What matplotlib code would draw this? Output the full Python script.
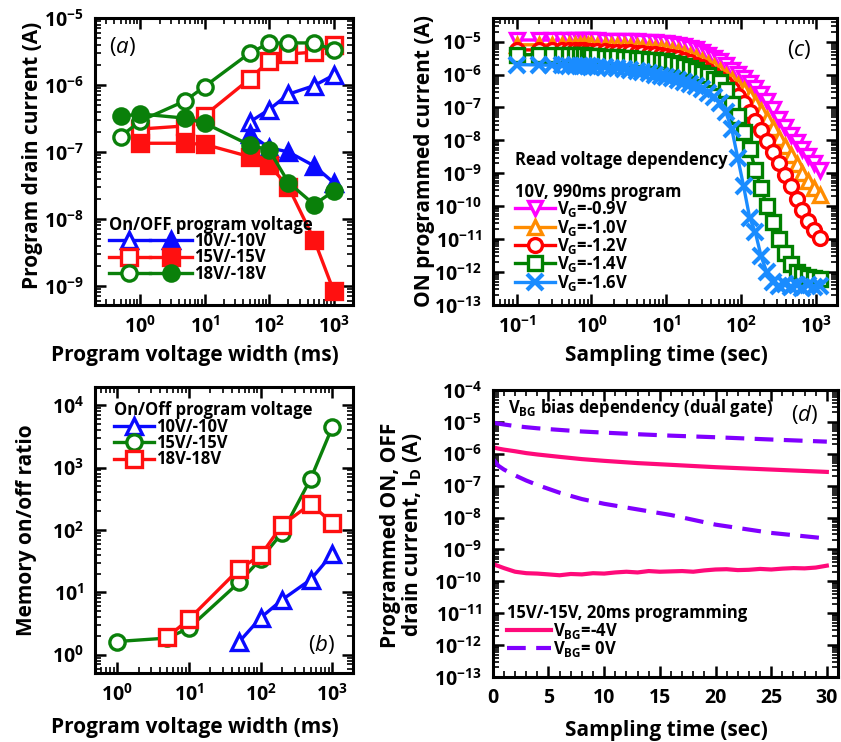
import numpy as np
import matplotlib
matplotlib.use('Agg')
import matplotlib.pyplot as plt
from matplotlib.ticker import LogLocator, FuncFormatter, MultipleLocator, NullFormatter
from matplotlib.legend_handler import HandlerTuple

plt.rcParams['font.family'] = ['Open Sans', 'DejaVu Sans']
plt.rcParams['font.weight'] = 'bold'
plt.rcParams['axes.labelweight'] = 'bold'
plt.rcParams['mathtext.fontset'] = 'custom'
plt.rcParams['mathtext.rm'] = 'Open Sans:weight=regular'
plt.rcParams['mathtext.bf'] = 'Open Sans:bold'
plt.rcParams['mathtext.it'] = 'Open Sans:style=italic:weight=regular'
plt.rcParams['mathtext.default'] = 'bf'
plt.rcParams['axes.linewidth'] = 2.2

# ---- panel (a): program drain current vs program width ----
width_a18 = [0.5, 1, 5, 10, 50, 100, 200, 500, 1000]
on_18 = [1.7e-7, 2.9e-7, 5.8e-7, 9.5e-7, 3.0e-6, 4.2e-6, 4.25e-6, 4.25e-6, 3.35e-6]
off_18 = [3.4e-7, 3.7e-7, 3.2e-7, 2.7e-7, 1.27e-7, 1.07e-7, 3.5e-8, 1.64e-8, 2.6e-8]
width_a15 = [1, 5, 10, 50, 100, 200, 500, 1000]
on_15 = [2.2e-7, 2.45e-7, 3.5e-7, 1.23e-6, 2.3e-6, 2.9e-6, 3.1e-6, 4.0e-6]
off_15 = [1.35e-7, 1.35e-7, 1.3e-7, 8.5e-8, 6.4e-8, 3.0e-8, 4.9e-9, 8.5e-10]
width_a10 = [50, 100, 200, 500, 1000]
on_10 = [2.8e-7, 4.3e-7, 7.3e-7, 9.8e-7, 1.4e-6]
off_10 = [1.85e-7, 1.16e-7, 1.0e-7, 6.2e-8, 3.5e-8]

# ---- panel (b): memory on/off ratio ----
width_b10 = [50, 100, 200, 500, 1000]
ratio_10 = [1.6, 3.9, 7.6, 16, 41]
width_b15 = [1, 5, 10, 50, 100, 200, 500, 1000]
ratio_15 = [1.63, 1.85, 2.67, 14.4, 34, 90, 655, 4400]
width_b18 = [5, 10, 50, 100, 200, 500, 1000]
ratio_18 = [1.92, 3.7, 23.5, 39, 120, 260, 130]

# ---- panel (c): read voltage dependency ----
t_c = [0.1, 0.2, 0.3, 0.4, 0.5, 0.6, 0.7, 0.8, 0.9,
       1.0, 1.2, 1.5, 1.8, 2.2, 2.7, 3.3, 4, 4.8, 5.8, 7, 8.5,
       10, 12, 14.5, 17.5, 21, 25, 30, 36, 43, 52, 62, 75, 90, 108, 130,
       155, 185, 220, 265, 320, 380, 460, 550, 660, 790, 950, 1150]
i_09 = [1.12e-5, 1.12e-5, 1.11e-5, 1.11e-5, 1.11e-5, 1.10e-5, 1.10e-5, 1.10e-5, 1.10e-5,
        1.09e-5, 1.09e-5, 1.08e-5, 1.07e-5, 1.06e-5, 1.05e-5, 1.04e-5, 1.02e-5, 1.0e-5, 9.8e-6, 9.5e-6, 9.2e-6,
        8.9e-6, 8.5e-6, 8.0e-6, 7.3e-6, 6.6e-6, 5.8e-6, 4.9e-6, 4.0e-6, 3.2e-6, 2.5e-6, 1.9e-6, 1.4e-6,
        1.05e-6, 7.8e-7, 5.6e-7, 3.9e-7, 2.6e-7, 1.6e-7, 9.0e-8, 4.6e-8, 2.6e-8, 1.5e-8, 8.8e-9,
        5.5e-9, 3.4e-9, 2.1e-9, 1.3e-9]
i_10 = [8.0e-6, 8.0e-6, 7.9e-6, 7.9e-6, 7.9e-6, 7.8e-6, 7.8e-6, 7.8e-6, 7.7e-6,
        7.7e-6, 7.6e-6, 7.5e-6, 7.4e-6, 7.3e-6, 7.2e-6, 7.0e-6, 6.8e-6, 6.6e-6, 6.3e-6, 6.0e-6, 5.8e-6,
        5.5e-6, 5.1e-6, 4.7e-6, 4.2e-6, 3.7e-6, 3.1e-6, 2.6e-6, 2.1e-6, 1.65e-6, 1.25e-6, 9.2e-7, 6.6e-7,
        4.8e-7, 3.4e-7, 2.2e-7, 1.35e-7, 8.0e-8, 4.4e-8, 2.3e-8, 1.2e-8, 6.6e-9, 3.5e-9, 1.9e-9,
        1.05e-9, 5.8e-10, 3.5e-10, 2.2e-10]
i_12 = [5.6e-6, 5.6e-6, 5.5e-6, 5.5e-6, 5.5e-6, 5.4e-6, 5.4e-6, 5.4e-6, 5.3e-6,
        5.3e-6, 5.2e-6, 5.1e-6, 5.0e-6, 4.9e-6, 4.8e-6, 4.7e-6, 4.6e-6, 4.5e-6, 4.3e-6, 4.1e-6, 3.9e-6,
        3.7e-6, 3.4e-6, 3.1e-6, 2.8e-6, 2.4e-6, 2.0e-6, 1.65e-6, 1.3e-6, 9.8e-7, 7.2e-7, 5.2e-7, 3.6e-7,
        2.3e-7, 1.35e-7, 7.5e-8, 4.0e-8, 2.0e-8, 9.5e-9, 4.5e-9, 2.0e-9, 9.0e-10, 4.0e-10, 1.7e-10,
        7.5e-11, 3.6e-11, 1.9e-11, 1.1e-11]
i_14 = [4.0e-6, 4.0e-6, 3.9e-6, 3.9e-6, 3.9e-6, 3.8e-6, 3.8e-6, 3.8e-6, 3.7e-6,
        3.7e-6, 3.6e-6, 3.5e-6, 3.4e-6, 3.3e-6, 3.2e-6, 3.1e-6, 3.0e-6, 2.9e-6, 2.8e-6, 2.7e-6, 2.6e-6,
        2.5e-6, 2.3e-6, 2.1e-6, 1.85e-6, 1.6e-6, 1.4e-6, 1.15e-6, 9.5e-7, 7.5e-7, 5.8e-7, 3.4e-7, 1.3e-7,
        5.5e-8, 1.8e-8, 5.5e-9, 1.3e-9, 3.6e-10, 1.0e-10, 3.2e-11, 1.0e-11, 3.8e-12, 1.7e-12, 1.0e-12,
        8.0e-13, 7.0e-13, 6.5e-13, 6.0e-13]
i_16 = [2.0e-6, 1.95e-6, 1.9e-6, 1.9e-6, 1.85e-6, 1.85e-6, 1.8e-6, 1.8e-6, 1.8e-6,
        1.75e-6, 1.7e-6, 1.65e-6, 1.6e-6, 1.55e-6, 1.5e-6, 1.4e-6, 1.3e-6, 1.2e-6, 1.1e-6, 1.0e-6, 9.3e-7,
        8.7e-7, 7.8e-7, 6.9e-7, 6.0e-7, 5.2e-7, 4.4e-7, 3.6e-7, 2.8e-7, 2.1e-7, 1.4e-7, 7.5e-8, 2.2e-8,
        3.0e-9, 4.0e-10, 4.5e-11, 1.6e-11, 3.0e-12, 1.0e-12, 5.0e-13, 3.8e-13, 4.2e-13, 3.5e-13, 4.0e-13,
        3.3e-13, 4.1e-13, 3.4e-13, 3.8e-13]

# ---- panel (d): back gate bias dependency ----
t_d = [0, 0.5, 1, 2, 3, 4, 6, 8, 10, 13, 16, 20, 25, 30]
on_m4 = [1.6e-6, 1.45e-6, 1.35e-6, 1.2e-6, 1.05e-6, 9.5e-7, 8.0e-7, 6.8e-7, 6.0e-7, 5.1e-7,
         4.5e-7, 3.8e-7, 3.2e-7, 2.7e-7]
on_0 = [9.5e-6, 8.8e-6, 8.3e-6, 7.4e-6, 6.8e-6, 6.3e-6, 5.6e-6, 5.0e-6, 4.6e-6, 4.1e-6,
        3.7e-6, 3.3e-6, 2.8e-6, 2.4e-6]
off_0 = [7.0e-7, 4.2e-7, 3.2e-7, 2.1e-7, 1.45e-7, 1.05e-7, 6.0e-8, 3.8e-8, 2.7e-8, 1.8e-8,
         1.2e-8, 6.0e-9, 3.3e-9, 2.2e-9]
t_d_off = list(range(31))
off_m4 = [3.5e-10, 2.6e-10, 2.0e-10, 1.8e-10, 1.75e-10, 1.65e-10, 1.55e-10, 1.7e-10, 1.65e-10,
          1.8e-10, 1.75e-10, 1.9e-10, 2.0e-10, 1.9e-10, 2.1e-10, 2.0e-10, 2.05e-10, 2.1e-10,
          2.0e-10, 2.2e-10, 2.35e-10, 2.4e-10, 2.25e-10, 2.3e-10, 2.45e-10, 2.35e-10, 2.5e-10,
          2.6e-10, 2.55e-10, 2.7e-10, 3.1e-10]

BLUE, RED, GREEN = '#0a0aff', '#ff1010', '#0a800a'
MAG, ORG, RED_C, GRN_C, SKY = '#ff00ff', '#ff8c00', '#ff0000', '#008000', '#1a8cff'
PINK, VIOLET = '#ff0a7a', '#8000ff'


def dec_fmt(v, pos):
    return r'$10^{%d}$' % int(round(np.log10(v)))


def panel_tag(ax, letter, x, y):
    # upright parentheses, italic letter, regular weight
    ax.text(x, y, r'$\mathrm{(}\mathit{%s}\mathrm{)}$' % letter, transform=ax.transAxes,
            fontsize=16, va='center', ha='center')


def style_axis(ax, logx=True, logy=True):
    if logx:
        ax.set_xscale('log')
        ax.xaxis.set_major_locator(LogLocator(base=10, numticks=30))
        ax.xaxis.set_minor_locator(LogLocator(base=10, subs=np.arange(2, 10), numticks=30))
        ax.xaxis.set_major_formatter(FuncFormatter(dec_fmt))
        ax.xaxis.set_minor_formatter(NullFormatter())
    if logy:
        ax.set_yscale('log')
        ax.yaxis.set_major_locator(LogLocator(base=10, numticks=30))
        ax.yaxis.set_minor_locator(LogLocator(base=10, subs=np.arange(2, 10), numticks=30))
        ax.yaxis.set_major_formatter(FuncFormatter(dec_fmt))
        ax.yaxis.set_minor_formatter(NullFormatter())
    ax.tick_params(which='both', direction='in', top=True, right=True)
    ax.tick_params(which='major', length=8, width=1.8, labelsize=14, pad=8)
    ax.tick_params(which='minor', length=4, width=1.2)


leg_kw = dict(alignment='left', title_fontsize=12, frameon=False, fontsize=12,
              handletextpad=0.15, labelspacing=-0.1, borderpad=0.2, borderaxespad=0.2,
              numpoints=1)
LABEL_FS = 15

fig = plt.figure(figsize=(8.41, 7.42), dpi=100)
ax_a = fig.add_axes([0.113, 0.589, 0.3067, 0.3867])
ax_c = fig.add_axes([0.586, 0.589, 0.409, 0.3867])
ax_b = fig.add_axes([0.113, 0.093, 0.3067, 0.3854])
ax_d = fig.add_axes([0.586, 0.0876, 0.4104, 0.3868])

# ---------------- (a) ----------------
ax = ax_a
mk = dict(markersize=11, markeredgewidth=2.4, linewidth=2.4)
l10o, = ax.plot(width_a10, on_10, '-^', color=BLUE, markerfacecolor='white', **mk)
l10f, = ax.plot(width_a10, off_10, '-^', color=BLUE, **mk)
l15o, = ax.plot(width_a15, on_15, '-s', color=RED, markerfacecolor='white', **mk)
l15f, = ax.plot(width_a15, off_15, '-s', color=RED, **mk)
l18o, = ax.plot(width_a18, on_18, '-o', color=GREEN, markerfacecolor='white', **mk)
l18f, = ax.plot(width_a18, off_18, '-o', color=GREEN, **mk)
style_axis(ax)
ax.set_xlim(0.2, 2000)
ax.set_ylim(5.2e-10, 1e-5)
ax.set_xlabel('Program voltage width (ms)', fontsize=LABEL_FS)
ax.set_ylabel('Program drain current (A)', fontsize=LABEL_FS)
ax.xaxis.set_label_coords(0.388, -0.14)
ax.yaxis.set_label_coords(-0.2, 0.52)
panel_tag(ax, 'a', 0.105, 0.9)
ax.legend([(l10o, l10f), (l15o, l15f), (l18o, l18f)],
          ['10V/-10V', '15V/-15V', '18V/-18V'],
          handler_map={tuple: HandlerTuple(ndivide=None, pad=0)},
          title='On/OFF program voltage', loc='lower left', bbox_to_anchor=(0.027, 0.054),
          handlelength=5.0, **leg_kw)

# ---------------- (c) ----------------
ax = ax_c
mc = dict(markersize=10, markeredgewidth=2.4, linewidth=2.4, markerfacecolor='white')
ax.plot(t_c, i_09, '-v', color=MAG, label=r'V$_G$=-0.9V', **mc)
ax.plot(t_c, i_10, '-^', color=ORG, label=r'V$_G$=-1.0V', **mc)
ax.plot(t_c, i_12, '-o', color=RED_C, label=r'V$_G$=-1.2V', **mc)
ax.plot(t_c, i_14, '-s', color=GRN_C, label=r'V$_G$=-1.4V', **mc)
ax.plot(t_c, i_16, '-x', color=SKY, markersize=11, markeredgewidth=3, linewidth=2.4,
        label=r'V$_G$=-1.6V')
style_axis(ax)
ax.set_xlim(0.048, 1900)
ax.set_ylim(1e-13, 5.2e-5)
ax.set_xlabel('Sampling time (sec)', fontsize=LABEL_FS)
ax.set_ylabel('ON programmed current (A)', fontsize=LABEL_FS)
ax.xaxis.set_label_coords(0.506, -0.14)
ax.yaxis.set_label_coords(-0.168, 0.5)
panel_tag(ax, 'c', 0.89, 0.889)
ax.text(0.064, 0.505, 'Read voltage dependency', transform=ax.transAxes, fontsize=12,
        va='center')
ax.legend(title='10V, 990ms program', loc='lower left', bbox_to_anchor=(0.044, 0.02),
          handlelength=2.4, **leg_kw)

# ---------------- (b) ----------------
ax = ax_b
mb = dict(markersize=11, markeredgewidth=2.4, linewidth=2.4, markerfacecolor='white')
ax.plot(width_b10, ratio_10, '-^', color=BLUE, label='10V/-10V', **mb)
ax.plot(width_b15, ratio_15, '-o', color=GREEN, label='15V/-15V', **mb)
ax.plot(width_b18, ratio_18, '-s', color=RED, label='18V-18V', **mb)
style_axis(ax)
ax.set_xlim(0.49, 1950)
ax.set_ylim(0.51, 19500)
ax.set_xlabel('Program voltage width (ms)', fontsize=LABEL_FS)
ax.set_ylabel('Memory on/off ratio', fontsize=LABEL_FS)
ax.xaxis.set_label_coords(0.388, -0.155)
ax.yaxis.set_label_coords(-0.225, 0.5)
panel_tag(ax, 'b', 0.88, 0.098)
ax.legend(title='On/Off program voltage', loc='upper left', bbox_to_anchor=(0.047, 0.973),
          handlelength=2.4, **leg_kw)

# ---------------- (d) ----------------
ax = ax_d
ax.plot(t_d, on_m4, '-', color=PINK, linewidth=3, label=r'V$_{BG}$=-4V')
ax.plot(t_d_off, off_m4, '-', color=PINK, linewidth=3)
ax.plot(t_d, on_0, '--', color=VIOLET, linewidth=3, dashes=(4.5, 2.5), label=r'V$_{BG}$= 0V')
ax.plot(t_d, off_0, '--', color=VIOLET, linewidth=3, dashes=(4.5, 2.5))
style_axis(ax, logx=False)
ax.xaxis.set_major_locator(MultipleLocator(5))
ax.xaxis.set_minor_locator(MultipleLocator(1))
ax.set_xlim(0, 31)
ax.set_ylim(1e-13, 1e-4)
ax.set_xlabel('Sampling time (sec)', fontsize=LABEL_FS)
ax.set_ylabel('Programmed ON, OFF\ndrain current, I$_D$ (A)', fontsize=LABEL_FS,
              linespacing=0.95)
ax.xaxis.set_label_coords(0.504, -0.15)
ax.yaxis.set_label_coords(-0.2, 0.495)
ax.text(0.043, 0.937, r'V$_{BG}$ bias dependency (dual gate)', transform=ax.transAxes,
        fontsize=12, va='center')
panel_tag(ax, 'd', 0.904, 0.913)
ax.legend(title='15V/-15V, 20ms programming', loc='lower left', bbox_to_anchor=(0.023, 0.04),
          handlelength=2.6, **leg_kw)

fig.savefig('out.png', dpi=100)
